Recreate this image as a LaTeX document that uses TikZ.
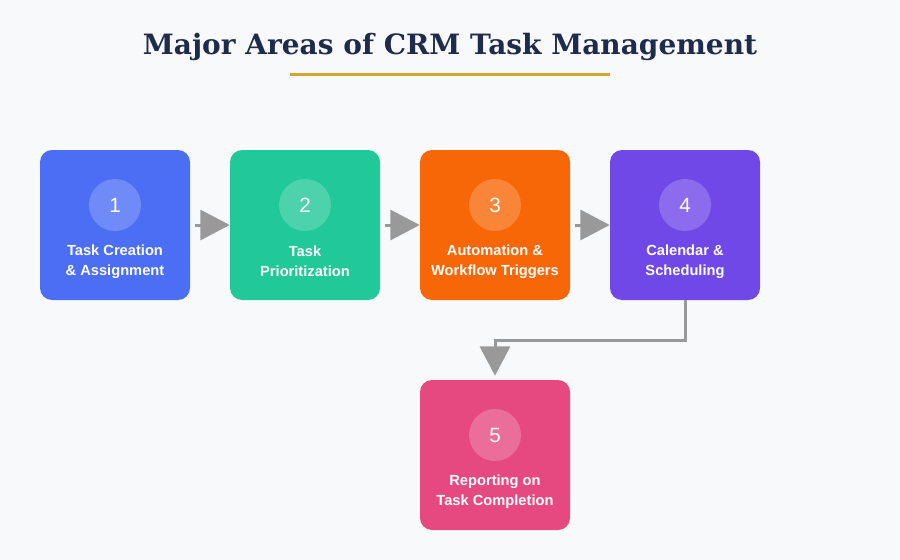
\documentclass[tikz,border=0pt]{standalone}
\usepackage{fontspec}
\setmainfont{Liberation Sans}
\newfontfamily\titlefont{DejaVu Serif}
\usetikzlibrary{arrows.meta}
\definecolor{bg}{HTML}{F8F9FA}
\definecolor{titlecol}{HTML}{1E2B4A}
\definecolor{gold}{HTML}{D4A72C}
\definecolor{cblue}{HTML}{4C6EF5}
\definecolor{cgreen}{HTML}{20C997}
\definecolor{corange}{HTML}{F76707}
\definecolor{cviolet}{HTML}{7048E8}
\definecolor{cpink}{HTML}{E64980}
\definecolor{arrowgrey}{HTML}{999999}
\tikzset{
  stepbox/.style={draw=none, rounded corners=9pt, minimum width=112.5pt, minimum height=112.5pt, inner sep=0pt},
  numcirc/.style={circle, fill=white, fill opacity=0.2, text opacity=1, text=white, minimum size=39pt, inner sep=0pt, font=\fontsize{15.5}{18}\selectfont},
  steplabel/.style={text=white, align=center, font=\bfseries\fontsize{11}{15}\selectfont},
  flow/.style={draw=arrowgrey, line width=2.25pt, -{Triangle[length=22pt,width=22.5pt]}, shorten >=0pt},
}
\begin{document}
\begin{tikzpicture}[x=0.75pt,y=-0.75pt]
\fill[bg] (0,0) rectangle (900,560);
\useasboundingbox (0,0) rectangle (900,560);
\node[text=titlecol, font=\titlefont\bfseries\fontsize{21}{25}\selectfont] (title) at (450,47) {Major Areas of CRM Task Management};
\draw[gold, line width=2.25pt] (290,74.5) -- (610,74.5);
% boxes
\node[stepbox, fill=cblue] (b1) at (115,225) {};
\node[stepbox, fill=cgreen] (b2) at (305,225) {};
\node[stepbox, fill=corange] (b3) at (495,225) {};
\node[stepbox, fill=cviolet] (b4) at (685,225) {};
\node[stepbox, fill=cpink] (b5) at (495,455) {};
% circles
\node[numcirc] (n1) at (115,205) {1};
\node[numcirc] (n2) at (305,205) {2};
\node[numcirc] (n3) at (495,205) {3};
\node[numcirc] (n4) at (685,205) {4};
\node[numcirc] (n5) at (495,435) {5};
% labels
\node[steplabel] (l1) at (115,261.5) {Task Creation\\\& Assignment};
\node[steplabel] (l2) at (305,261.5) {Task\\Prioritization};
\node[steplabel] (l3) at (495,261.5) {Automation \&\\Workflow Triggers};
\node[steplabel] (l4) at (685,261.5) {Calendar \&\\Scheduling};
\node[steplabel] (l5) at (495,491.5) {Reporting on\\Task Completion};
% connectors
\draw[flow] ([xshift=3.75pt]b1.east) -- (b2.west);
\draw[flow] ([xshift=3.75pt]b2.east) -- (b3.west);
\draw[flow] ([xshift=3.75pt]b3.east) -- (b4.west);
\draw[flow, rounded corners=0pt] (b4.south) |- (495,340) -- ([yshift=3pt]b5.north);
\end{tikzpicture}
\end{document}
